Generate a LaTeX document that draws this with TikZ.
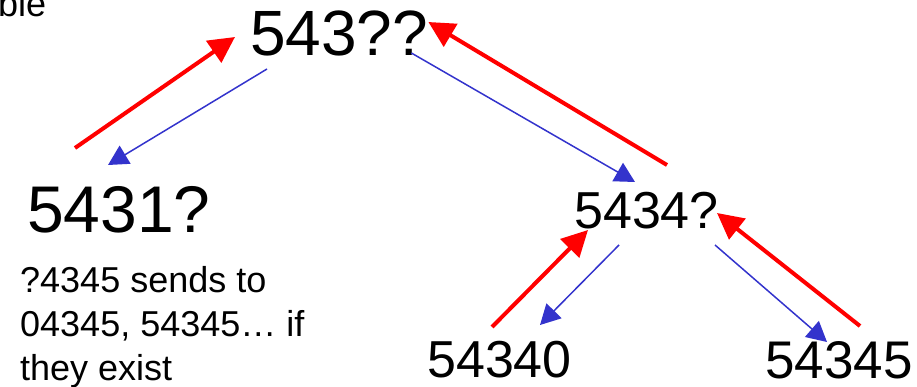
\documentclass[tikz,border=0pt]{standalone}
\usepackage{fontspec}
\setmainfont{Liberation Sans}
\definecolor{upred}{RGB}{255,0,0}
\definecolor{downblue}{RGB}{51,51,204}
\usetikzlibrary{arrows.meta,positioning}

\begin{document}
\begin{tikzpicture}[
  x=1pt,y=-1pt,
  num/.style={inner sep=0pt,anchor=base west},
  big/.style={num,font=\fontsize{64}{70}\selectfont},
  mid/.style={num,font=\fontsize{52}{60}\selectfont},
  up/.style={upred,line width=4pt,-{Triangle[length=26pt,width=26pt]}},
  down/.style={downblue,line width=1.5pt,-{Triangle[length=20pt,width=21pt]}}
]
  \useasboundingbox (0,0) rectangle (917,387);
  \node[num,font=\fontsize{36}{44}\selectfont] (cut) at (-2,17) {ble};
  \node[big] (top) at (250,56) {543??};
  \node[big,font=\fontsize{66}{72}\selectfont] (left) at (27,233) {5431?};
  \node[mid] (right) at (574,229) {5434?};
  \node[mid] (leaf0) at (427,377) {54340};
  \node[mid,font=\fontsize{53}{60}\selectfont] (leaf5) at (765,378) {54345};
  \node[inner sep=0pt,anchor=north west,align=left,font=\fontsize{36}{44}\selectfont] (note) at (20,266)
    {?4345 sends to\\04345, 54345… if\\they exist};
  % up the tree
  \draw[up] ([shift={(48,-85)}]left.base west) -- ([shift={(-15,-19)}]top.base west);
  \draw[up] ([shift={(93,-64)}]right.base west) -- ([shift={(0,-34)}]top.base east);
  \draw[up] ([shift={(65,-50)}]leaf0.base west) -- ([shift={(14,1)}]right.base west);
  \draw[up] ([shift={(95,-52)}]leaf5.base west) -- ([shift={(-2,-16)}]right.base east);
  % down the tree
  \draw[down] ([shift={(17,13)}]top.base west) -- ([shift={(81,-68)}]left.base west);
  \draw[down] ([shift={(-17,-3)}]top.base east) -- ([shift={(61,-47)}]right.base west);
  \draw[down] ([shift={(45,16)}]right.base west) -- ([shift={(113,-52)}]leaf0.base west);
  \draw[down] ([shift={(-4,16)}]right.base east) -- ([shift={(62,-36)}]leaf5.base west);
\end{tikzpicture}
\end{document}
